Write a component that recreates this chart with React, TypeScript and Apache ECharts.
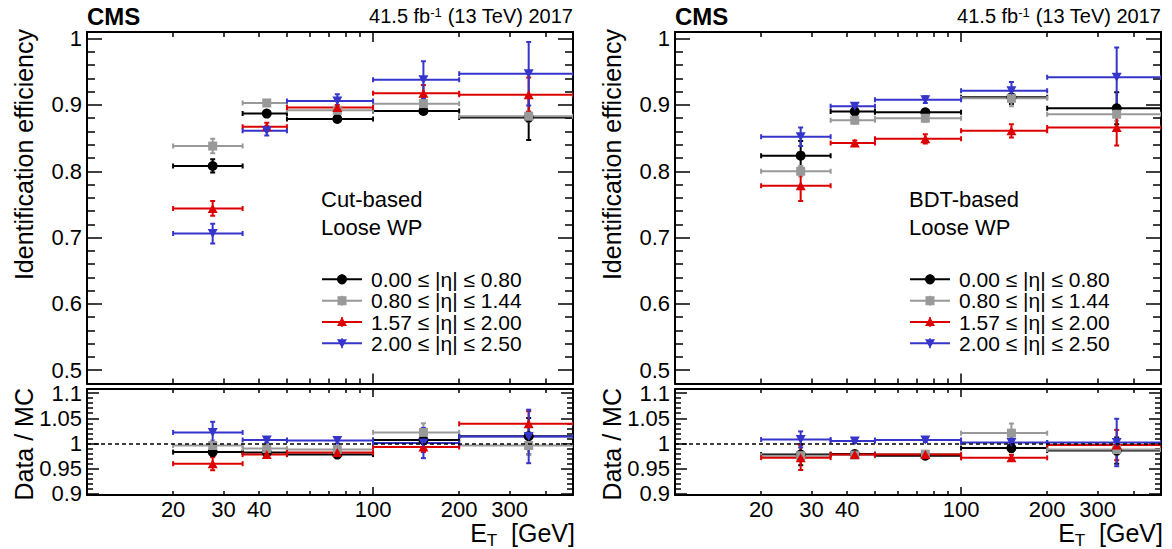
import React, { useEffect, useRef } from "react";
import * as echarts from "echarts";

const FONT = "'Liberation Sans', Arial, Helvetica, sans-serif";

// ---------------- data ----------------
const binLow = [20, 35, 50, 100, 200];
const binHigh = [35, 50, 100, 200, 500];
const binCenter = [27.5, 42.5, 75, 150, 350];

const etaLabels = [
  "0.00 ≤ |η| ≤ 0.80",
  "0.80 ≤ |η| ≤ 1.44",
  "1.57 ≤ |η| ≤ 2.00",
  "2.00 ≤ |η| ≤ 2.50",
];
const etaColors = ["#000000", "#999999", "#dd0000", "#3535cc"];
const etaSymbols = ["circle", "rect", "triangle", "triangle"];
const etaRotate = [0, 0, 0, 180];
const etaSizes: any[] = [10, 9, [10, 9], [10, 9]];

// Cut-based: efficiency
const cutEffEta0 = [0.808, 0.887, 0.879, 0.891, 0.881];
const cutEffEta0Err = [0.01, 0.003, 0.003, 0.004, 0.034];
const cutEffEta1 = [0.838, 0.903, 0.892, 0.902, 0.883];
const cutEffEta1Err = [0.011, 0.003, 0.003, 0.006, 0.008];
const cutEffEta2 = [0.744, 0.867, 0.896, 0.9175, 0.9155];
const cutEffEta2Err = [0.011, 0.006, 0.004, 0.0125, 0.026];
const cutEffEta3 = [0.706, 0.861, 0.906, 0.938, 0.947];
const cutEffEta3Err = [0.015, 0.007, 0.01, 0.028, 0.048];

// Cut-based: data / MC
const cutSfEta0 = [0.983, 0.982, 0.978, 1.007, 1.0145];
const cutSfEta0Err = [0.008, 0.006, 0.004, 0.008, 0.036];
const cutSfEta1 = [0.996, 0.99, 0.988, 1.022, 0.996];
const cutSfEta1Err = [0.01, 0.006, 0.006, 0.018, 0.017];
const cutSfEta2 = [0.96, 0.978, 0.982, 0.993, 1.039];
const cutSfEta2Err = [0.013, 0.005, 0.005, 0.01, 0.025];
const cutSfEta3 = [1.022, 1.007, 1.006, 1.001, 1.014];
const cutSfEta3Err = [0.021, 0.005, 0.006, 0.03, 0.053];

// BDT-based: efficiency
const bdtEffEta0 = [0.8235, 0.89, 0.889, 0.9115, 0.895];
const bdtEffEta0Err = [0.022, 0.005, 0.004, 0.01, 0.024];
const bdtEffEta1 = [0.8, 0.877, 0.88, 0.91, 0.886];
const bdtEffEta1Err = [0.008, 0.005, 0.005, 0.012, 0.01];
const bdtEffEta2 = [0.778, 0.8425, 0.849, 0.861, 0.866];
const bdtEffEta2Err = [0.023, 0.004, 0.007, 0.01, 0.027];
const bdtEffEta3 = [0.852, 0.898, 0.908, 0.9215, 0.9416];
const bdtEffEta3Err = [0.014, 0.005, 0.005, 0.013, 0.045];

// BDT-based: data / MC
const bdtSfEta0 = [0.978, 0.979, 0.976, 0.991, 0.986];
const bdtSfEta0Err = [0.021, 0.004, 0.004, 0.008, 0.026];
const bdtSfEta1 = [0.976, 0.977, 0.979, 1.0206, 0.988];
const bdtSfEta1Err = [0.006, 0.004, 0.004, 0.019, 0.01];
const bdtSfEta2 = [0.972, 0.978, 0.978, 0.9716, 0.997];
const bdtSfEta2Err = [0.0245, 0.004, 0.005, 0.006, 0.03];
const bdtSfEta3 = [1.008, 1.005, 1.007, 1.002, 1.002];
const bdtSfEta3Err = [0.016, 0.004, 0.004, 0.012, 0.047];

// ---------------- ticks ----------------
const xLabelTicks = [20, 30, 40, 100, 200, 300];
const xMajorTicks = [100];
const xMinorTicks = [20, 30, 40, 50, 60, 70, 80, 90, 200, 300, 400];
const effLabelTicks = [0.5, 0.6, 0.7, 0.8, 0.9, 1];
const ratioLabelTicks = [0.9, 0.95, 1, 1.05, 1.1];
const effMinorTicks: number[] = [];
for (let k = 24; k <= 50; k++) if (k % 5 !== 0) effMinorTicks.push(+(k * 0.02).toFixed(2));
const ratioMinorTicks: number[] = [];
for (let k = 90; k <= 110; k++) if (k % 5 !== 0) ratioMinorTicks.push(+(k / 100).toFixed(2));

const panelTitles = [
  ["Cut-based", "Loose WP"],
  ["BDT-based", "Loose WP"],
];

const panelData = [
  {
    eff: [cutEffEta0, cutEffEta1, cutEffEta2, cutEffEta3],
    effErr: [cutEffEta0Err, cutEffEta1Err, cutEffEta2Err, cutEffEta3Err],
    sf: [cutSfEta0, cutSfEta1, cutSfEta2, cutSfEta3],
    sfErr: [cutSfEta0Err, cutSfEta1Err, cutSfEta2Err, cutSfEta3Err],
  },
  {
    eff: [bdtEffEta0, bdtEffEta1, bdtEffEta2, bdtEffEta3],
    effErr: [bdtEffEta0Err, bdtEffEta1Err, bdtEffEta2Err, bdtEffEta3Err],
    sf: [bdtSfEta0, bdtSfEta1, bdtSfEta2, bdtSfEta3],
    sfErr: [bdtSfEta0Err, bdtSfEta1Err, bdtSfEta2Err, bdtSfEta3Err],
  },
];

// ---------------- layout ----------------
const PANEL_LEFT = [87, 675];
const PANEL_W = 486;
const TOP_Y = 32;
const TOP_H = 351.5;
const BOT_Y = 389;
const BOT_H = 106;
const EFF_RANGE = [0.48, 1.01];
const RATIO_RANGE = [0.898, 1.108];

function fmtY(v: number) {
  return String(Number((+v).toFixed(2)));
}

function buildAxes(gridIndex: number, isRatio: boolean) {
  const xs: any[] = [];
  const ys: any[] = [];
  const frame = { color: "#000", width: 2 };
  const tickLine = { color: "#000", width: 1.5 };
  const xMaj = isRatio ? 8 : 10;
  const xMin = isRatio ? 4 : 5;
  const yMaj = isRatio ? 12 : 15;
  const yMin = isRatio ? 6 : 8;
  const baseX = {
    type: "log",
    logBase: 10,
    gridIndex,
    min: 10,
    max: 500,
    splitLine: { show: false },
    minorTick: { show: false },
    minorSplitLine: { show: false },
  };
  const labelStyle = { color: "#000", fontFamily: FONT, fontSize: 22 };
  for (const pos of ["bottom", "top"]) {
    xs.push({
      ...baseX,
      position: pos,
      axisLine: { show: true, onZero: false, lineStyle: frame },
      axisTick: { show: true, inside: true, length: xMaj, customValues: xMajorTicks, lineStyle: tickLine },
      axisLabel:
        pos === "bottom" && isRatio
          ? { show: true, customValues: xLabelTicks, formatter: (v: number) => String(Math.round(v)), margin: 3, ...labelStyle }
          : { show: false },
    });
    xs.push({
      ...baseX,
      position: pos,
      axisLine: { show: false },
      axisTick: { show: true, inside: true, length: xMin, customValues: xMinorTicks, lineStyle: tickLine },
      axisLabel: { show: false },
    });
  }
  const range = isRatio ? RATIO_RANGE : EFF_RANGE;
  const majors = isRatio ? ratioLabelTicks : effLabelTicks;
  const minors = isRatio ? ratioMinorTicks : effMinorTicks;
  const baseY = {
    type: "value",
    gridIndex,
    min: range[0],
    max: range[1],
    splitLine: { show: false },
  };
  for (const pos of ["left", "right"]) {
    ys.push({
      ...baseY,
      position: pos,
      axisLine: { show: true, onZero: false, lineStyle: frame },
      axisTick: { show: true, inside: true, length: yMaj, customValues: majors, lineStyle: tickLine },
      axisLabel:
        pos === "left"
          ? { show: true, customValues: majors, formatter: fmtY, margin: 5, ...labelStyle }
          : { show: false },
    });
    ys.push({
      ...baseY,
      position: pos,
      axisLine: { show: false },
      axisTick: { show: true, inside: true, length: yMin, customValues: minors, lineStyle: tickLine },
      axisLabel: { show: false },
    });
  }
  return { xs, ys };
}

function errRender(color: string) {
  return (_params: any, api: any) => {
    const xc = api.value(0);
    const y = api.value(1);
    const xl = api.value(2);
    const xh = api.value(3);
    const e = api.value(4);
    const pl = api.coord([xl, y]);
    const ph = api.coord([xh, y]);
    const pt = api.coord([xc, y + e]);
    const pb = api.coord([xc, y - e]);
    const style = { stroke: color, lineWidth: 2 };
    const cap = 2.5;
    const line = (x1: number, y1: number, x2: number, y2: number) => ({
      type: "line",
      shape: { x1, y1, x2, y2 },
      style,
    });
    return {
      type: "group",
      children: [
        line(pl[0], pl[1], ph[0], ph[1]),
        line(pt[0], pt[1], pb[0], pb[1]),
        line(pl[0], pl[1] - cap, pl[0], pl[1] + cap),
        line(ph[0], ph[1] - cap, ph[0], ph[1] + cap),
        line(pt[0] - cap, pt[1], pt[0] + cap, pt[1]),
        line(pb[0] - cap, pb[1], pb[0] + cap, pb[1]),
      ],
    };
  };
}

function buildOption() {
  const grid: any[] = [];
  const xAxis: any[] = [];
  const yAxis: any[] = [];
  const series: any[] = [];
  const graphics: any[] = [];

  PANEL_LEFT.forEach((left, p) => {
    const gTop = 2 * p;
    const gBot = 2 * p + 1;
    grid.push({ left, top: TOP_Y, width: PANEL_W, height: TOP_H, containLabel: false, outerBoundsMode: "none" });
    grid.push({ left, top: BOT_Y, width: PANEL_W, height: BOT_H, containLabel: false, outerBoundsMode: "none" });
    const a1 = buildAxes(gTop, false);
    const a2 = buildAxes(gBot, true);
    xAxis.push(...a1.xs, ...a2.xs);
    yAxis.push(...a1.ys, ...a2.ys);

    const d = panelData[p];
    [
      { g: gTop, vals: d.eff, errs: d.effErr },
      { g: gBot, vals: d.sf, errs: d.sfErr },
    ].forEach(({ g, vals, errs }) => {
      if (g === gBot) {
        series.push({
          type: "line",
          xAxisIndex: 4 * g,
          yAxisIndex: 4 * g,
          data: [],
          silent: true,
          markLine: {
            silent: true,
            symbol: "none",
            label: { show: false },
            lineStyle: { color: "#000", width: 1.5, type: [4, 3] },
            data: [{ yAxis: 1 }],
          },
        });
      }
      for (let i = 0; i < 4; i++) {
        series.push({
          type: "custom",
          xAxisIndex: 4 * g,
          yAxisIndex: 4 * g,
          silent: true,
          clip: true,
          encode: { x: 0, y: 1 },
          data: vals[i].map((v: number, k: number) => [binCenter[k], v, binLow[k], binHigh[k], errs[i][k]]),
          renderItem: errRender(etaColors[i]),
        });
        series.push({
          type: "scatter",
          xAxisIndex: 4 * g,
          yAxisIndex: 4 * g,
          silent: true,
          data: vals[i].map((v: number, k: number) => [binCenter[k], v]),
          symbol: etaSymbols[i],
          symbolSize: etaSizes[i],
          symbolRotate: etaRotate[i],
          itemStyle: { color: etaColors[i], opacity: 1 },
        });
      }
    });

    const right = left + PANEL_W;
    // header
    graphics.push({
      type: "text",
      x: left,
      y: 16,
      style: { text: "CMS", fontFamily: FONT, fontWeight: "bold", fontSize: 24, fill: "#000", align: "left", verticalAlign: "middle" },
    });
    graphics.push({
      type: "text",
      x: right,
      y: 16,
      style: {
        text: "41.5 fb{sup|-1} (13 TeV) 2017",
        fontFamily: FONT,
        fontSize: 20,
        fill: "#000",
        align: "right",
        verticalAlign: "middle",
        rich: { sup: { fontFamily: FONT, fontSize: 13, verticalAlign: "top", fill: "#000" } },
      },
    });
    // axis titles
    graphics.push({
      type: "text",
      x: left - 63,
      y: 29,
      rotation: Math.PI / 2,
      style: { text: "Identification efficiency", fontFamily: FONT, fontSize: 25, fill: "#000", align: "right", verticalAlign: "middle" },
    });
    graphics.push({
      type: "text",
      x: left - 63,
      y: 388,
      rotation: Math.PI / 2,
      style: { text: "Data / MC", fontFamily: FONT, fontSize: 25, fill: "#000", align: "right", verticalAlign: "middle" },
    });
    graphics.push({
      type: "text",
      x: right + 2,
      y: 533,
      style: {
        text: "E{sub|T}  [GeV]",
        fontFamily: FONT,
        fontSize: 25,
        fill: "#000",
        align: "right",
        verticalAlign: "middle",
        rich: { sub: { fontFamily: FONT, fontSize: 17, verticalAlign: "top", padding: [14, 0, 0, 0], fill: "#000" } },
      },
    });
    // panel labels
    panelTitles[p].forEach((t, j) => {
      graphics.push({
        type: "text",
        x: left + 234,
        y: 199 + 28 * j,
        style: { text: t, fontFamily: FONT, fontSize: 22, lineHeight: 24, fill: "#000", align: "left", verticalAlign: "middle" },
      });
    });
    // legend
    const rowY = [279.3, 300.7, 322, 343.3];
    for (let i = 0; i < 4; i++) {
      const y = rowY[i];
      const cx = left + 255;
      const col = etaColors[i];
      graphics.push({ type: "line", shape: { x1: left + 235, y1: y, x2: left + 275, y2: y }, style: { stroke: col, lineWidth: 2 } });
      graphics.push({ type: "line", shape: { x1: cx, y1: y - 5, x2: cx, y2: y + 5 }, style: { stroke: col, lineWidth: 1.5 } });
      if (i === 0) graphics.push({ type: "circle", shape: { cx, cy: y, r: 5 }, style: { fill: col } });
      if (i === 1) graphics.push({ type: "rect", shape: { x: cx - 4.5, y: y - 4.5, width: 9, height: 9 }, style: { fill: col } });
      if (i === 2)
        graphics.push({ type: "polygon", shape: { points: [[cx, y - 5], [cx - 5, y + 4], [cx + 5, y + 4]] }, style: { fill: col } });
      if (i === 3)
        graphics.push({ type: "polygon", shape: { points: [[cx, y + 5], [cx - 5, y - 4], [cx + 5, y - 4]] }, style: { fill: col } });
      graphics.push({
        type: "text",
        x: left + 284,
        y,
        style: { text: etaLabels[i], fontFamily: FONT, fontSize: 21, lineHeight: 19, fill: "#000", align: "left", verticalAlign: "middle" },
      });
    }
  });

  return {
    animation: false,
    backgroundColor: "#ffffff",
    textStyle: { fontFamily: FONT },
    grid,
    xAxis,
    yAxis,
    series,
    graphic: { elements: graphics },
  };
}

export default function App() {
  const ref = useRef<HTMLDivElement>(null);
  useEffect(() => {
    const chart = echarts.init(ref.current!, null, { renderer: "svg" });
    chart.setOption(buildOption() as any);
    return () => chart.dispose();
  }, []);
  return (
    <div
      ref={ref}
      style={{ position: "absolute", left: 0, top: 0, width: 1172, height: 549, background: "#fff" }}
    />
  );
}
